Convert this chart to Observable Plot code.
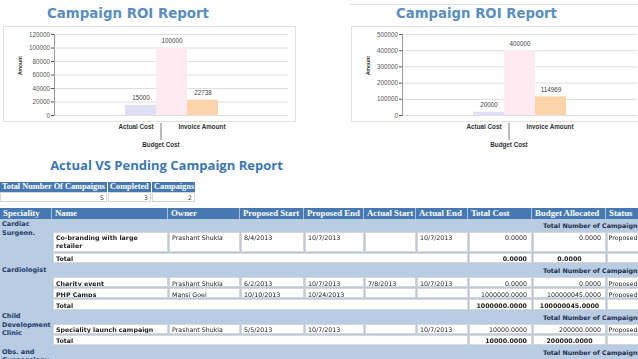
<!DOCTYPE html>
<html><head><meta charset="utf-8">
<script src="https://cdn.jsdelivr.net/npm/d3@7"></script>
<script src="https://cdn.jsdelivr.net/npm/@observablehq/plot@0.6"></script>
<style>
html,body{margin:0;padding:0;background:#fff;}
#page{position:relative;width:638px;height:359px;overflow:hidden;font-family:'DejaVu Sans',Verdana,sans-serif;-webkit-font-smoothing:antialiased;}
.abs{position:absolute;box-sizing:border-box;white-space:nowrap;overflow:hidden;}
.title{position:absolute;white-space:nowrap;line-height:1;transform:translate(-50%,-50%);font-weight:bold;}
.hdr{background:#4679b2;color:#fff;font-family:'Liberation Serif','Times New Roman',serif;font-weight:bold;padding-left:3px;}
.cell{background:#fff;border:1px solid #d2d8e0;font-size:6.3px;line-height:8px;padding:1.5px 3px 0 2px;color:#222;filter:grayscale(1);}
.num{text-align:right;padding-right:4px;}
.b{font-weight:bold;}
.spec{font-weight:bold;font-size:6.5px;line-height:8.5px;color:#1b3a66;white-space:normal;padding-left:2px;}
.grp{font-weight:bold;font-size:6.3px;color:#1e2c48;}
.chartbox{position:absolute;border:1px solid #e1e1e1;background:#fff;box-sizing:border-box;}
</style></head>
<body><div id="page"></div>
<script>
// ---------- chart data ----------
const categories = ["Actual Cost", "Budget Cost", "Invoice Amount"];
const roiValuesLeft = [15000, 100000, 22738];
const roiValuesRight = [20000, 400000, 114969];
const yTicksLeft = [0, 20000, 40000, 60000, 80000, 100000, 120000];
const yTicksRight = [0, 100000, 200000, 300000, 400000, 500000];
const barColors = ["#dfe0f6", "#fdebf1", "#fdd4aa"];
const chartTitle = "Campaign ROI Report";
const yLabel = "Amount";

// ---------- table data ----------
const reportTitle = "Actual VS Pending Campaign Report";
const summaryHeaders = ["Total Number Of Campaigns", "Completed", "Campaigns"];
const summaryValues = [5, 3, 2];
const tableHeaders = ["Speciality", "Name", "Owner", "Proposed Start", "Proposed End", "Actual Start", "Actual End", "Total Cost", "Budget Allocated", "Status"];
const specialities = ["Cardiac Surgeon.", "Cardiologist", "Child Development Clinic", "Obs. and Gynaecology"];
const specialityCounts = [1, 2, 1, 1];
const campSpeciality = [0, 1, 1, 2];
const campNames = ["Co-branding with large retailer", "Charity event", "PHP Camps", "Speciality launch campaign"];
const campOwners = ["Prashant Shukla", "Prashant Shukla", "Mansi Goel", "Prashant Shukla"];
const campPropStart = ["8/4/2013", "6/2/2013", "10/10/2013", "5/5/2013"];
const campPropEnd = ["10/7/2013", "10/7/2013", "10/24/2013", "10/7/2013"];
const campActStart = ["", "7/8/2013", "", ""];
const campActEnd = ["10/7/2013", "10/7/2013", "", "10/7/2013"];
const campTotalCost = [0, 0, 1000000, 10000];
const campBudget = [0, 0, 100000045, 200000];
const campStatus = ["Proposed", "Proposed", "Proposed", "Proposed"];

const page = document.getElementById("page");
const ctx = document.createElement("canvas").getContext("2d");
function textW(t, font) { ctx.font = font; return ctx.measureText(t).width; }
function el(cls, style, text) {
  const d = document.createElement("div");
  d.className = cls;
  Object.assign(d.style, style);
  if (text !== undefined) d.textContent = text;
  page.appendChild(d);
  return d;
}
function title(text, cx, cy, family, targetW, color) {
  const size = 100 * targetW / textW(text, `bold 100px ${family}`);
  el("title", {left: cx + "px", top: cy + "px", fontFamily: family, fontSize: size + "px", color}, text);
}

// ---------- charts ----------
function roiChart(values, ticks, width, marginLeft, marginRight) {
  const rows = categories.map((c, i) => ({category: c, value: values[i]}));
  const frameW = width - marginLeft - marginRight;
  const po = (frameW / 31 - categories.length) / 2;
  const labelDx = [-5, -11, -1];
  const labelDy = [13, 31, 13];
  return Plot.plot({
    width, height: 129,
    marginLeft, marginRight, marginTop: 8, marginBottom: 40,
    style: {fontFamily: "'Liberation Sans', Arial, sans-serif", fontSize: "6.3px", background: "transparent", overflow: "visible"},
    x: {type: "band", domain: categories, paddingInner: 0, paddingOuter: po, axis: null},
    y: {domain: [0, ticks[ticks.length - 1]], axis: null},
    color: {domain: categories, range: barColors},
    marks: [
      Plot.gridY(ticks, {stroke: "#dedede", strokeOpacity: 1}),
      Plot.barY(rows, {x: "category", y: "value", fill: "category"}),
      Plot.frame({anchor: "left", stroke: "#9a9a9a"}),
      Plot.axisY(ticks, {anchor: "left", tickSize: 3, tickPadding: 1.5, tickFormat: d3.format("d"), color: "#555", label: null}),
      Plot.text(rows, {x: "category", y: "value", text: d => String(d.value), dy: -7, fill: "#444"}),
      ...categories.map((c, i) => Plot.text([c], {x: d => d, frameAnchor: "bottom", dx: labelDx[i], dy: labelDy[i], fontWeight: "bold", fill: "#333"})),
      Plot.ruleX([categories[1]], {x: d => d, dx: -11, dy: 25, insetTop: 64, stroke: "#777"}),
      Plot.text([yLabel], {frameAnchor: "left", dx: -34, rotate: -90, fontSize: 5, fontWeight: "bold", fill: "#333"})
    ]
  });
}

el("abs", {left: "350px", top: "4px", width: "300px", height: "1px", background: "#e2e2e2"});
el("chartbox", {left: "3px", top: "26px", width: "293px", height: "96px"});
el("chartbox", {left: "351px", top: "26px", width: "300px", height: "96px"});
title(chartTitle, 128, 13.5, "'DejaVu Sans'", 162, "#5a8ec3");
title(chartTitle, 476.5, 13.5, "'DejaVu Sans'", 161, "#5a8ec3");

const c1 = el("abs", {left: "0px", top: "26px", overflow: "visible"});
c1.appendChild(roiChart(roiValuesLeft, yTicksLeft, 300, 54, 12));
const c2 = el("abs", {left: "350px", top: "26px", overflow: "visible"});
c2.appendChild(roiChart(roiValuesRight, yTicksRight, 288, 52, 1));

// ---------- report title ----------
title(reportTitle, 166.5, 165.5, "'Open Sans'", 233, "#3b77b5");

// ---------- summary table ----------
const SX = [0, 108, 152, 196];
summaryHeaders.forEach((h, i) => {
  el("abs hdr", {left: SX[i] + "px", top: "181.5px", width: (SX[i + 1] - SX[i] - 1) + "px", height: "10px", lineHeight: "10px", fontSize: "8.3px", paddingLeft: "2px"}, h);
  el("abs cell num", {left: SX[i] + "px", top: "191.5px", width: (SX[i + 1] - SX[i] - 1) + "px", height: "10.5px", paddingRight: "2px", color: "#333"}, String(summaryValues[i]));
});

// ---------- main table ----------
const COLS = [0, 52, 168, 240, 304, 364, 416, 468, 532, 606, 680];
el("abs", {left: "0px", top: "207.5px", width: "680px", height: "11px", background: "#a9c0dc"});
tableHeaders.forEach((h, i) => {
  el("abs hdr", {left: COLS[i] + "px", top: "207.5px", width: (COLS[i + 1] - COLS[i] - 1) + "px", height: "11px", lineHeight: "11px", fontSize: "8.8px"}, h);
});
el("abs", {left: "0px", top: "218.5px", width: "680px", height: "141px", background: "#b8cce4"});

const fmt = v => v.toFixed(4);
function colCell(i, y, h, text, extraCls, style) {
  return el("abs cell" + (extraCls ? " " + extraCls : ""), Object.assign({left: (COLS[i] + 1) + "px", top: y + "px", width: (COLS[i + 1] - COLS[i] - 1) + "px", height: (h - 1) + "px"}, style || {}), text);
}

let y = 218.5;
specialities.forEach((spec, s) => {
  const gy = y;
  el("abs spec", {left: "0px", top: (gy + 1.5) + "px", width: "52px", height: "60px"}, spec);
  el("abs grp", {left: "543px", top: gy + "px", height: "13px", lineHeight: "13px", overflow: "visible"}, "Total Number of Campaigns : " + specialityCounts[s]);
  y += 13;
  const idx = campSpeciality.map((g, i) => g === s ? i : -1).filter(i => i >= 0);
  if (!idx.length) return;
  idx.forEach(i => {
    const nameAvail = COLS[2] - COLS[1] - 1 - 2 - 8;
    const lines = textW(campNames[i], "bold 6.3px 'DejaVu Sans'") > nameAvail ? 2 : 1;
    const h = lines === 2 ? 21 : 11;
    colCell(1, y, h, campNames[i], "b", {whiteSpace: "normal", paddingRight: "6px"});
    colCell(2, y, h, campOwners[i]);
    colCell(3, y, h, campPropStart[i]);
    colCell(4, y, h, campPropEnd[i]);
    colCell(5, y, h, campActStart[i]);
    colCell(6, y, h, campActEnd[i]);
    colCell(7, y, h, fmt(campTotalCost[i]), "num");
    colCell(8, y, h, fmt(campBudget[i]), "num");
    colCell(9, y, h, campStatus[i], "", {paddingLeft: "0.5px"});
    y += h;
  });
  const tc = d3.sum(idx, i => campTotalCost[i]);
  const tb = d3.sum(idx, i => campBudget[i]);
  const th = 11.5;
  el("abs cell b", {left: (COLS[1] + 1) + "px", top: y + "px", width: (COLS[7] - COLS[1] - 1) + "px", height: (th - 1) + "px"}, "Total");
  colCell(7, y, th, fmt(tc), "num b");
  colCell(8, y, th, fmt(tb), "b", {textAlign: "center", paddingLeft: "0px", paddingRight: "0px"});
  colCell(9, y, th, "");
  y += th;
});
</script>
</body></html>
